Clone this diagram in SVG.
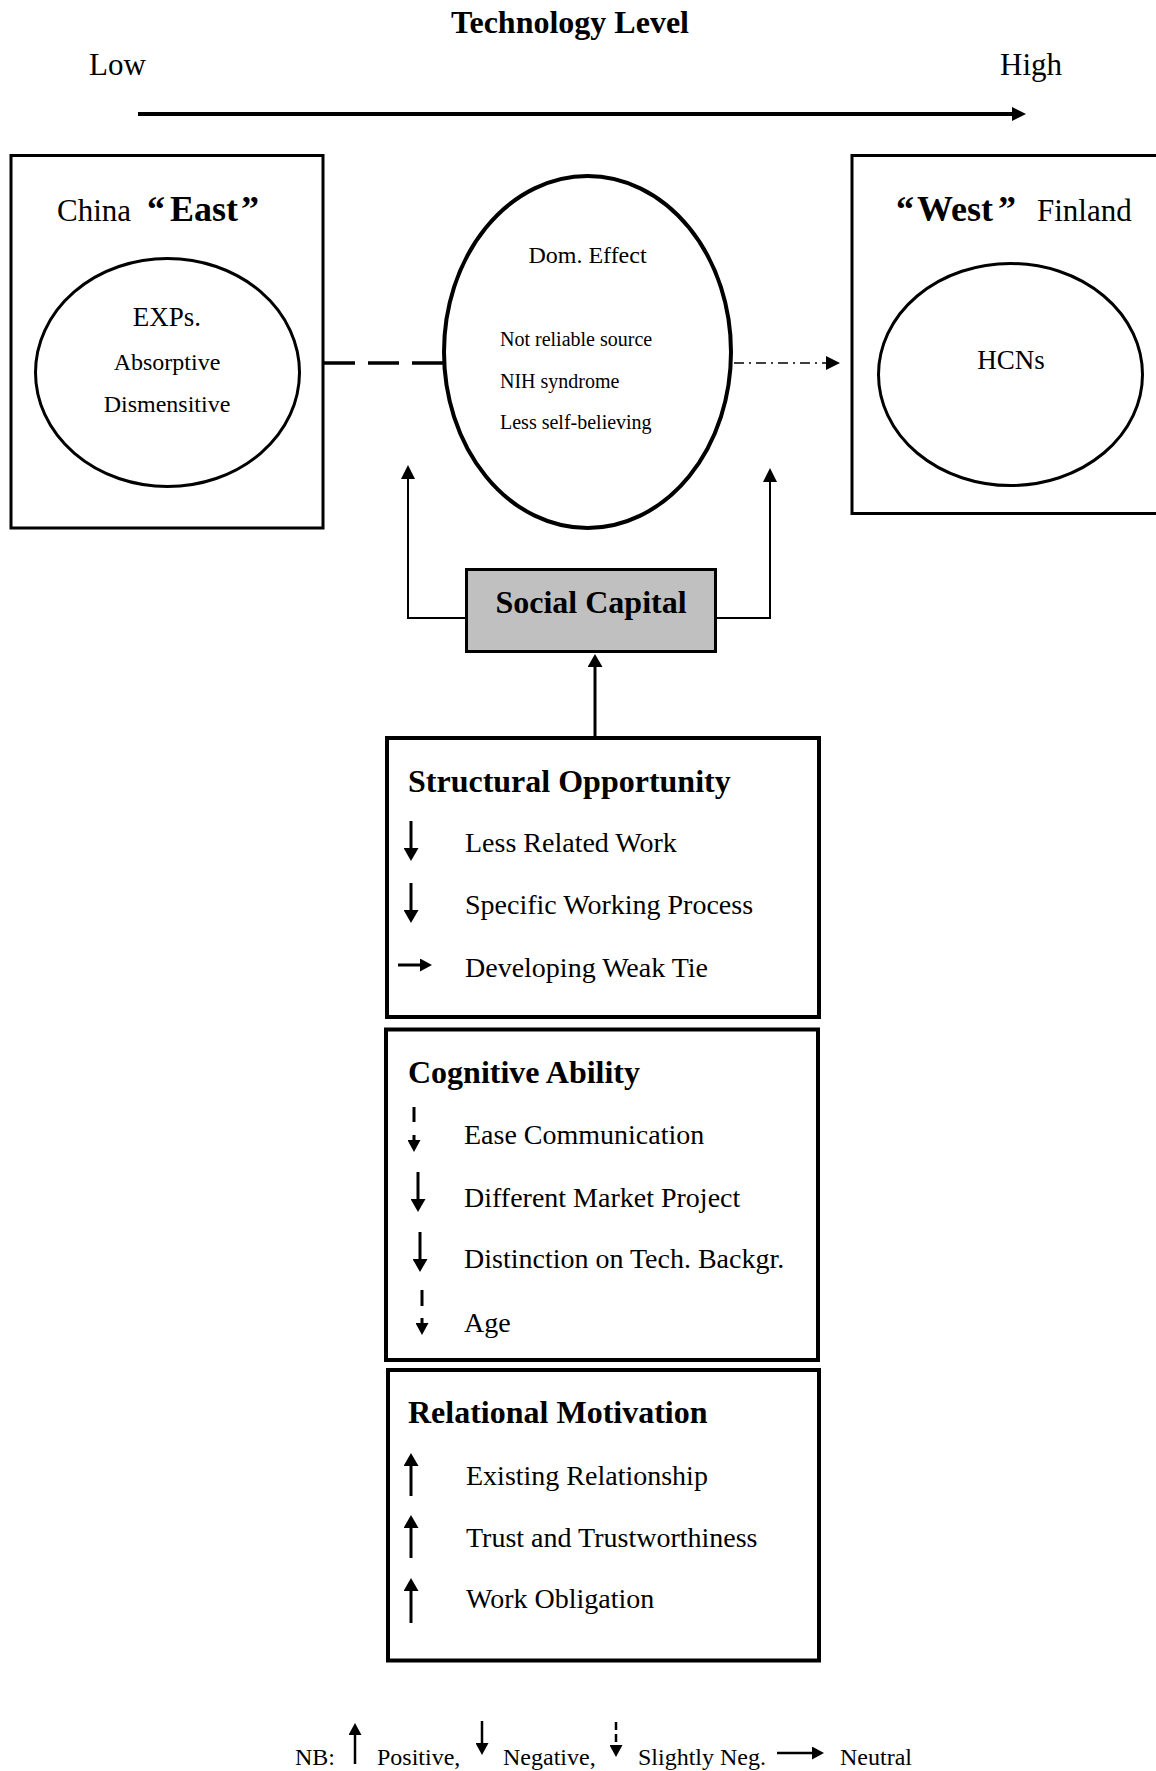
<svg xmlns="http://www.w3.org/2000/svg" width="1156" height="1771" viewBox="0 0 1156 1771">
<style>
text{font-family:"Liberation Serif","Times New Roman",serif;fill:#000}
.b{font-weight:bold}
.t32{font-size:32px}
.t31{font-size:31px}
.t28{font-size:28px}
.t24{font-size:24px}
.t20{font-size:20px}
.mid{text-anchor:middle}
.box{fill:#fff;stroke:#000}
.ln{fill:none;stroke:#000}
</style>
<defs>
<marker id="ah" markerUnits="userSpaceOnUse" viewBox="0 0 14 14" markerWidth="14" markerHeight="14" refX="0" refY="7" orient="auto">
<path d="M0,0 L14,7 L0,14 z" fill="#000"/>
</marker>
<marker id="ahs" markerUnits="userSpaceOnUse" viewBox="0 0 13 15" markerWidth="13" markerHeight="15" refX="0" refY="7.5" orient="auto">
<path d="M0,0 L13,7.5 L0,15 z" fill="#000"/>
</marker>
<marker id="ahl" markerUnits="userSpaceOnUse" viewBox="0 0 12 13" markerWidth="12" markerHeight="13" refX="0" refY="6.5" orient="auto">
<path d="M0,0 L12,6.5 L0,13 z" fill="#000"/>
</marker>
</defs>

<g id="title">
<text class="b t32 mid" x="570" y="33">Technology Level</text>
<text class="t31" x="89" y="75">Low</text>
<text class="t31" x="1000" y="75">High</text>
</g>

<g id="china">
<rect class="box" x="11" y="155.5" width="312" height="372.5" stroke-width="3"/>
<text class="t31" x="57" y="221">China</text>
<text class="b" font-size="36" x="147" y="221">“</text>
<text class="b" font-size="36" x="170" y="221">East</text>
<text class="b" font-size="36" x="241" y="221">”</text>
<ellipse class="box" cx="167.5" cy="372.5" rx="132" ry="114" stroke-width="3"/>
<text class="mid" font-size="27" x="167" y="326">EXPs.</text>
<text class="t24 mid" x="167" y="370">Absorptive</text>
<text class="t24 mid" x="167" y="412">Dismensitive</text>
</g>

<g id="dom-effect">
<ellipse class="box" cx="587.5" cy="352" rx="143.5" ry="176" stroke-width="4"/>
<text class="t24 mid" x="587.5" y="263">Dom. Effect</text>
<text class="t20" x="500" y="346">Not reliable source</text>
<text class="t20" x="500" y="388">NIH syndrome</text>
<text class="t20" x="500" y="429">Less self-believing</text>
</g>

<g id="finland">
<rect class="box" x="852" y="155.5" width="310" height="358" stroke-width="3"/>
<text class="b" font-size="36" x="896" y="221">“</text>
<text class="b" font-size="36" x="917" y="221">West</text>
<text class="b" font-size="36" x="998" y="221">”</text>
<text class="t31" x="1037" y="221">Finland</text>
<ellipse class="box" cx="1010.5" cy="374.5" rx="132" ry="111" stroke-width="3"/>
<text class="mid" font-size="27" x="1011" y="369">HCNs</text>
</g>

<g id="social-capital">
<rect x="466.5" y="569.5" width="249" height="82" fill="#c0c0c0" stroke="#000" stroke-width="3"/>
<text class="b t32 mid" x="591" y="613">Social Capital</text>
</g>

<g id="structural-opportunity">
<rect class="box" x="387" y="738" width="432" height="279" stroke-width="4"/>
<text class="b t32" x="408" y="792">Structural Opportunity</text>
<text class="t28" x="465" y="852">Less Related Work</text>
<text class="t28" x="465" y="914">Specific Working Process</text>
<text class="t28" x="465" y="977">Developing Weak Tie</text>
<line class="ln" x1="411" y1="821" x2="411" y2="848" stroke-width="3" marker-end="url(#ahs)"/>
<line class="ln" x1="411" y1="883" x2="411" y2="910" stroke-width="3" marker-end="url(#ahs)"/>
<line class="ln" x1="398" y1="965" x2="420" y2="965" stroke-width="3" marker-end="url(#ahl)"/>
</g>

<g id="cognitive-ability">
<rect class="box" x="386" y="1029.5" width="432" height="330.5" stroke-width="4"/>
<text class="b t32" x="408" y="1083">Cognitive Ability</text>
<text class="t28" x="464" y="1144">Ease Communication</text>
<text class="t28" x="464" y="1207">Different Market Project</text>
<text class="t28" x="464" y="1268">Distinction on Tech. Backgr.</text>
<text class="t28" x="464" y="1332">Age</text>
<line class="ln" x1="414" y1="1107" x2="414" y2="1140" stroke-width="3" stroke-dasharray="15 13" marker-end="url(#ahl)"/>
<line class="ln" x1="418" y1="1172" x2="418" y2="1199" stroke-width="3" marker-end="url(#ahs)"/>
<line class="ln" x1="420" y1="1232" x2="420" y2="1259" stroke-width="3" marker-end="url(#ahs)"/>
<line class="ln" x1="422" y1="1290" x2="422" y2="1323" stroke-width="3" stroke-dasharray="16 12" marker-end="url(#ahl)"/>
</g>

<g id="relational-motivation">
<rect class="box" x="388" y="1370" width="431" height="290.5" stroke-width="4"/>
<text class="b t32" x="408" y="1423">Relational Motivation</text>
<text class="t28" x="466" y="1485">Existing Relationship</text>
<text class="t28" x="466" y="1547">Trust and Trustworthiness</text>
<text class="t28" x="466" y="1608">Work Obligation</text>
<line class="ln" x1="411" y1="1496" x2="411" y2="1466" stroke-width="3" marker-end="url(#ahs)"/>
<line class="ln" x1="411" y1="1558" x2="411" y2="1528" stroke-width="3" marker-end="url(#ahs)"/>
<line class="ln" x1="411" y1="1623" x2="411" y2="1591" stroke-width="3" marker-end="url(#ahs)"/>
</g>

<g id="legend">
<text class="t24" x="295" y="1765">NB:</text>
<line class="ln" x1="355" y1="1764" x2="355" y2="1735" stroke-width="2.5" marker-end="url(#ahl)"/>
<text class="t24" x="377" y="1765">Positive,</text>
<line class="ln" x1="482" y1="1721" x2="482" y2="1743" stroke-width="2.5" marker-end="url(#ahl)"/>
<text class="t24" x="503" y="1765">Negative,</text>
<line class="ln" x1="616" y1="1722" x2="616" y2="1745" stroke-width="2.5" stroke-dasharray="8 4" marker-end="url(#ahl)"/>
<text class="t24" x="638" y="1765">Slightly Neg.</text>
<line class="ln" x1="777" y1="1753" x2="812" y2="1753" stroke-width="2.5" marker-end="url(#ahl)"/>
<text class="t24" x="840" y="1765">Neutral</text>
</g>

<g id="connectors">
<line class="ln" x1="138" y1="114" x2="1012" y2="114" stroke-width="4" marker-end="url(#ah)"/>
<line class="ln" x1="324" y1="363" x2="443" y2="363" stroke-width="3.5" stroke-dasharray="31 13"/>
<line class="ln" x1="734" y1="363" x2="826" y2="363" stroke-width="1.5" stroke-dasharray="10 5 2 5" marker-end="url(#ah)"/>
<polyline class="ln" points="466,618 408,618 408,479" stroke-width="2" marker-end="url(#ah)"/>
<polyline class="ln" points="716,618 770,618 770,482" stroke-width="2" marker-end="url(#ah)"/>
<line class="ln" x1="595" y1="737" x2="595" y2="667" stroke-width="3" marker-end="url(#ahs)"/>
</g>
</svg>
